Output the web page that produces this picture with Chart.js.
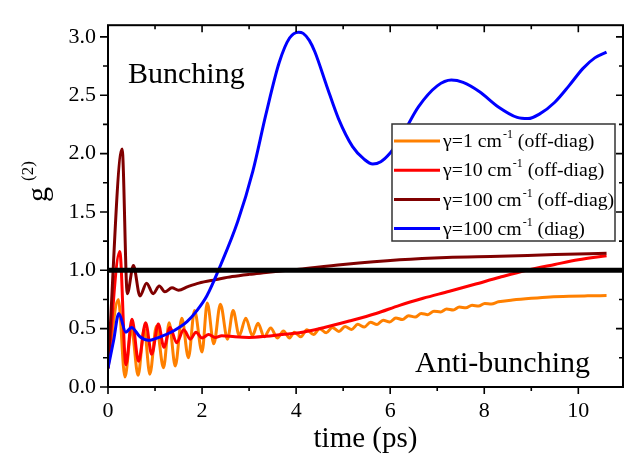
<!DOCTYPE html>
<html>
<head>
<meta charset="utf-8">
<script src="https://cdn.jsdelivr.net/npm/chart.js@4"></script>
<style>
  html, body { margin: 0; padding: 0; background: #fff; }
</style>
</head>
<body>
<canvas id="grafico" width="644" height="457"></canvas>
<script>
// ejes
const xMin = 0, xMax = 10.95;
const yMin = 0, yMax = 3.1;
const xTicks = [0, 2, 4, 6, 8, 10];
const yTicks = [0.0, 0.5, 1.0, 1.5, 2.0, 2.5, 3.0];
const nivelRef = 1.0;

// gamma = 1 cm-1 (off-diag)
const tNaranja = [0, 0.22, 0.36, 0.50, 0.64, 0.77, 0.89, 1.03, 1.18, 1.30,
  1.43, 1.57, 1.71, 1.84, 2.00, 2.11, 2.25, 2.39, 2.54, 2.66,
  2.79, 2.93, 3.07, 3.19, 3.32, 3.46, 3.60, 3.73, 3.86, 3.96,
  4.10, 4.23, 4.37, 4.50, 4.64, 4.77, 4.91, 5.04, 5.18, 5.31,
  5.45, 5.58, 5.72, 5.85, 5.99, 6.12, 6.26, 6.39, 6.53, 6.66,
  6.80, 6.93, 7.07, 7.20, 7.34, 7.47, 7.61, 7.74, 7.88, 8.01,
  8.15, 8.30, 8.60, 9.00, 9.40, 9.80, 10.20, 10.60];
const gNaranja = [0.16, 0.75, 0.085, 0.50, 0.10, 0.50, 0.11, 0.52, 0.165, 0.55,
  0.18, 0.59, 0.25, 0.655, 0.30, 0.72, 0.37, 0.71, 0.41, 0.655,
  0.44, 0.59, 0.44, 0.546, 0.43, 0.506, 0.42, 0.48, 0.42, 0.47,
  0.43, 0.49, 0.45, 0.50, 0.464, 0.51, 0.476, 0.518, 0.493, 0.537,
  0.514, 0.555, 0.536, 0.573, 0.557, 0.592, 0.578, 0.611, 0.599, 0.63,
  0.62, 0.649, 0.643, 0.669, 0.66, 0.685, 0.678, 0.70, 0.694, 0.716,
  0.712, 0.73, 0.745, 0.76, 0.772, 0.778, 0.781, 0.783];

// gamma = 10 cm-1 (off-diag)
const tRojo = [0, 0.25, 0.38, 0.51, 0.65, 0.80, 0.93, 1.07, 1.19, 1.32,
  1.46, 1.61, 1.75, 1.87, 2.00, 2.14, 2.28, 2.42, 2.70, 3.00,
  3.36, 3.70, 4.07, 4.60, 5.13, 5.70, 6.20, 6.70, 7.26, 7.80,
  8.33, 8.90, 9.50, 10.00, 10.60];
const gRojo = [0.16, 1.16, 0.19, 0.58, 0.22, 0.55, 0.28, 0.54, 0.34, 0.51,
  0.38, 0.49, 0.41, 0.47, 0.42, 0.45, 0.425, 0.44, 0.43, 0.425,
  0.435, 0.45, 0.465, 0.51, 0.565, 0.63, 0.70, 0.76, 0.82, 0.88,
  0.94, 1.0, 1.05, 1.09, 1.125];

// gamma = 100 cm-1 (off-diag)
const tVino = [0, 0.30, 0.41, 0.54, 0.68, 0.82, 0.96, 1.09, 1.21, 1.36,
  1.50, 1.70, 1.93, 2.30, 2.64, 3.00, 3.36, 4.07, 5.00, 6.20,
  7.20, 8.33, 9.50, 10.60];
const gVino = [0.16, 2.04, 0.80, 1.04, 0.78, 0.89, 0.80, 0.865, 0.816, 0.85,
  0.83, 0.86, 0.89, 0.92, 0.946, 0.965, 0.98, 1.01, 1.05, 1.09,
  1.11, 1.12, 1.135, 1.145];

// gamma = 100 cm-1 (diag)
const tAzul = [0, 0.12, 0.23, 0.38, 0.50, 0.68, 0.86, 1.11, 1.39, 1.68,
  1.89, 2.10, 2.40, 2.76, 3.08, 3.36, 3.64, 3.86, 4.05, 4.15,
  4.28, 4.40, 4.65, 4.90, 5.20, 5.45, 5.63, 5.80, 5.99, 6.15,
  6.30, 6.60, 7.00, 7.30, 7.55, 7.90, 8.30, 8.70, 8.93, 9.18,
  9.50, 9.80, 10.10, 10.35, 10.60];
const gAzul = [0.16, 0.40, 0.63, 0.47, 0.51, 0.43, 0.40, 0.43, 0.48, 0.56,
  0.655, 0.78, 1.05, 1.42, 1.85, 2.34, 2.78, 2.99, 3.04, 3.03,
  2.97, 2.87, 2.58, 2.30, 2.06, 1.95, 1.91, 1.93, 2.00, 2.09,
  2.19, 2.40, 2.58, 2.63, 2.61, 2.53, 2.40, 2.31, 2.30, 2.34,
  2.44, 2.58, 2.73, 2.82, 2.87];

const leyendaGamma = ['1', '10', '100', '100'];
const leyendaTipo = ['off-diag', 'off-diag', 'off-diag', 'diag'];
const colores = ['#ff8000', '#ff0000', '#800000', '#0000ff'];

const serif = '"Liberation Serif", "Times New Roman", serif';

const puntos = (ts, gs) => ts.map((t, i) => ({ x: t, y: gs[i] }));

function serie(ts, gs, color) {
  return {
    data: puntos(ts, gs),
    borderColor: color,
    borderWidth: 3,
    pointRadius: 0,
    cubicInterpolationMode: 'monotone',
    fill: false
  };
}

// el primer dataset queda encima
const datasets = [
  {
    data: [{ x: xMin, y: nivelRef }, { x: xMax, y: nivelRef }],
    borderColor: '#000',
    borderWidth: 5,
    pointRadius: 0
  },
  serie(tAzul, gAzul, colores[3]),
  serie(tVino, gVino, colores[2]),
  serie(tRojo, gRojo, colores[1]),
  serie(tNaranja, gNaranja, colores[0])
];

// marco, marcas menores, textos y leyenda
const decoracion = {
  id: 'decoracion',
  afterDraw(chart) {
    const { ctx, chartArea: a, scales: { x, y } } = chart;
    ctx.save();
    ctx.strokeStyle = '#000';
    ctx.lineWidth = 2;
    ctx.strokeRect(a.left, a.top, a.right - a.left, a.bottom - a.top);

    ctx.lineWidth = 1.6;
    ctx.beginPath();
    for (let i = 0; i < xTicks.length; i++) {
      const v = xTicks[i];
      [v, v + 1].forEach((t, k) => {
        if (t > xMax) return;
        const px = x.getPixelForValue(t);
        const lb = k === 0 ? 7 : 4;
        ctx.moveTo(px, a.bottom); ctx.lineTo(px, a.bottom + lb);
        ctx.moveTo(px, a.top); ctx.lineTo(px, a.top + lb);
      });
    }
    for (let i = 0; i < yTicks.length; i++) {
      const v = yTicks[i];
      [v, v + 0.25].forEach((g, k) => {
        if (g > yMax) return;
        const py = y.getPixelForValue(g);
        ctx.moveTo(a.left, py); ctx.lineTo(a.left - (k === 0 ? 8 : 5), py);
        ctx.moveTo(a.right, py); ctx.lineTo(a.right - (k === 0 ? 7 : 4), py);
      });
    }
    ctx.stroke();

    ctx.fillStyle = '#000';
    ctx.textBaseline = 'alphabetic';
    ctx.textAlign = 'left';
    ctx.font = '30px ' + serif;
    ctx.fillText('Bunching', a.left + 20, a.top + 58);
    ctx.fillText('Anti-bunching', a.left + 307, a.top + 347);

    ctx.textAlign = 'center';
    ctx.font = '29px ' + serif;
    ctx.fillText('time (ps)', (a.left + a.right) / 2, 447);

    // titulo del eje y: g^(2)
    ctx.save();
    ctx.translate(47, 202);
    ctx.rotate(-Math.PI / 2);
    ctx.textAlign = 'left';
    ctx.font = '30px ' + serif;
    ctx.fillText('g', 0, 0);
    const gw = ctx.measureText('g').width;
    ctx.font = '17px ' + serif;
    ctx.fillText('(2)', gw + 6, -14);
    ctx.restore();

    // leyenda
    const lx = 392, ly = 124, lw = 223, lh = 117;
    ctx.fillStyle = '#fff';
    ctx.fillRect(lx, ly, lw, lh);
    ctx.strokeStyle = '#333';
    ctx.lineWidth = 1.5;
    ctx.strokeRect(lx, ly, lw, lh);
    ctx.textAlign = 'left';
    ctx.textBaseline = 'middle';
    for (let i = 0; i < leyendaGamma.length; i++) {
      const yy = ly + 17 + i * 29.2;
      ctx.strokeStyle = colores[i];
      ctx.lineWidth = 3;
      ctx.beginPath();
      ctx.moveTo(lx + 2, yy); ctx.lineTo(lx + 48, yy);
      ctx.stroke();
      ctx.fillStyle = '#000';
      let cx = lx + 51;
      ctx.font = '19.8px ' + serif;
      const a1 = '\u03b3=' + leyendaGamma[i] + ' cm';
      ctx.fillText(a1, cx, yy + 1);
      cx += ctx.measureText(a1).width + 1;
      ctx.font = '12px ' + serif;
      ctx.fillText('-1', cx, yy - 6);
      cx += ctx.measureText('-1').width;
      ctx.font = '19.8px ' + serif;
      ctx.fillText(' (' + leyendaTipo[i] + ')', cx, yy + 1);
    }
    ctx.restore();
  }
};

const ctx = document.getElementById('grafico').getContext('2d');
new Chart(ctx, {
  type: 'line',
  data: { datasets: datasets },
  options: {
    responsive: false,
    animation: false,
    devicePixelRatio: 1,
    layout: { padding: { top: 7, right: 21, left: 0, bottom: 0 } },
    plugins: { legend: { display: false }, tooltip: { enabled: false } },
    scales: {
      x: {
        type: 'linear',
        min: xMin,
        max: xMax,
        afterBuildTicks: s => { s.ticks = xTicks.map(v => ({ value: v })); },
        afterFit: s => { s.height = 70; },
        grid: { display: false, drawTicks: false },
        border: { display: false },
        ticks: {
          color: '#000',
          font: { family: serif, size: 22 },
          padding: 11,
          maxRotation: 0,
          callback: v => String(v)
        }
      },
      y: {
        type: 'linear',
        min: yMin,
        max: yMax,
        afterBuildTicks: s => { s.ticks = yTicks.map(v => ({ value: v })); },
        afterFit: s => { s.width = 108; },
        grid: { display: false, drawTicks: false },
        border: { display: false },
        ticks: {
          color: '#000',
          font: { family: serif, size: 22 },
          padding: 12,
          callback: v => Number(v).toFixed(1)
        }
      }
    }
  },
  plugins: [decoracion]
});
</script>
</body>
</html>
